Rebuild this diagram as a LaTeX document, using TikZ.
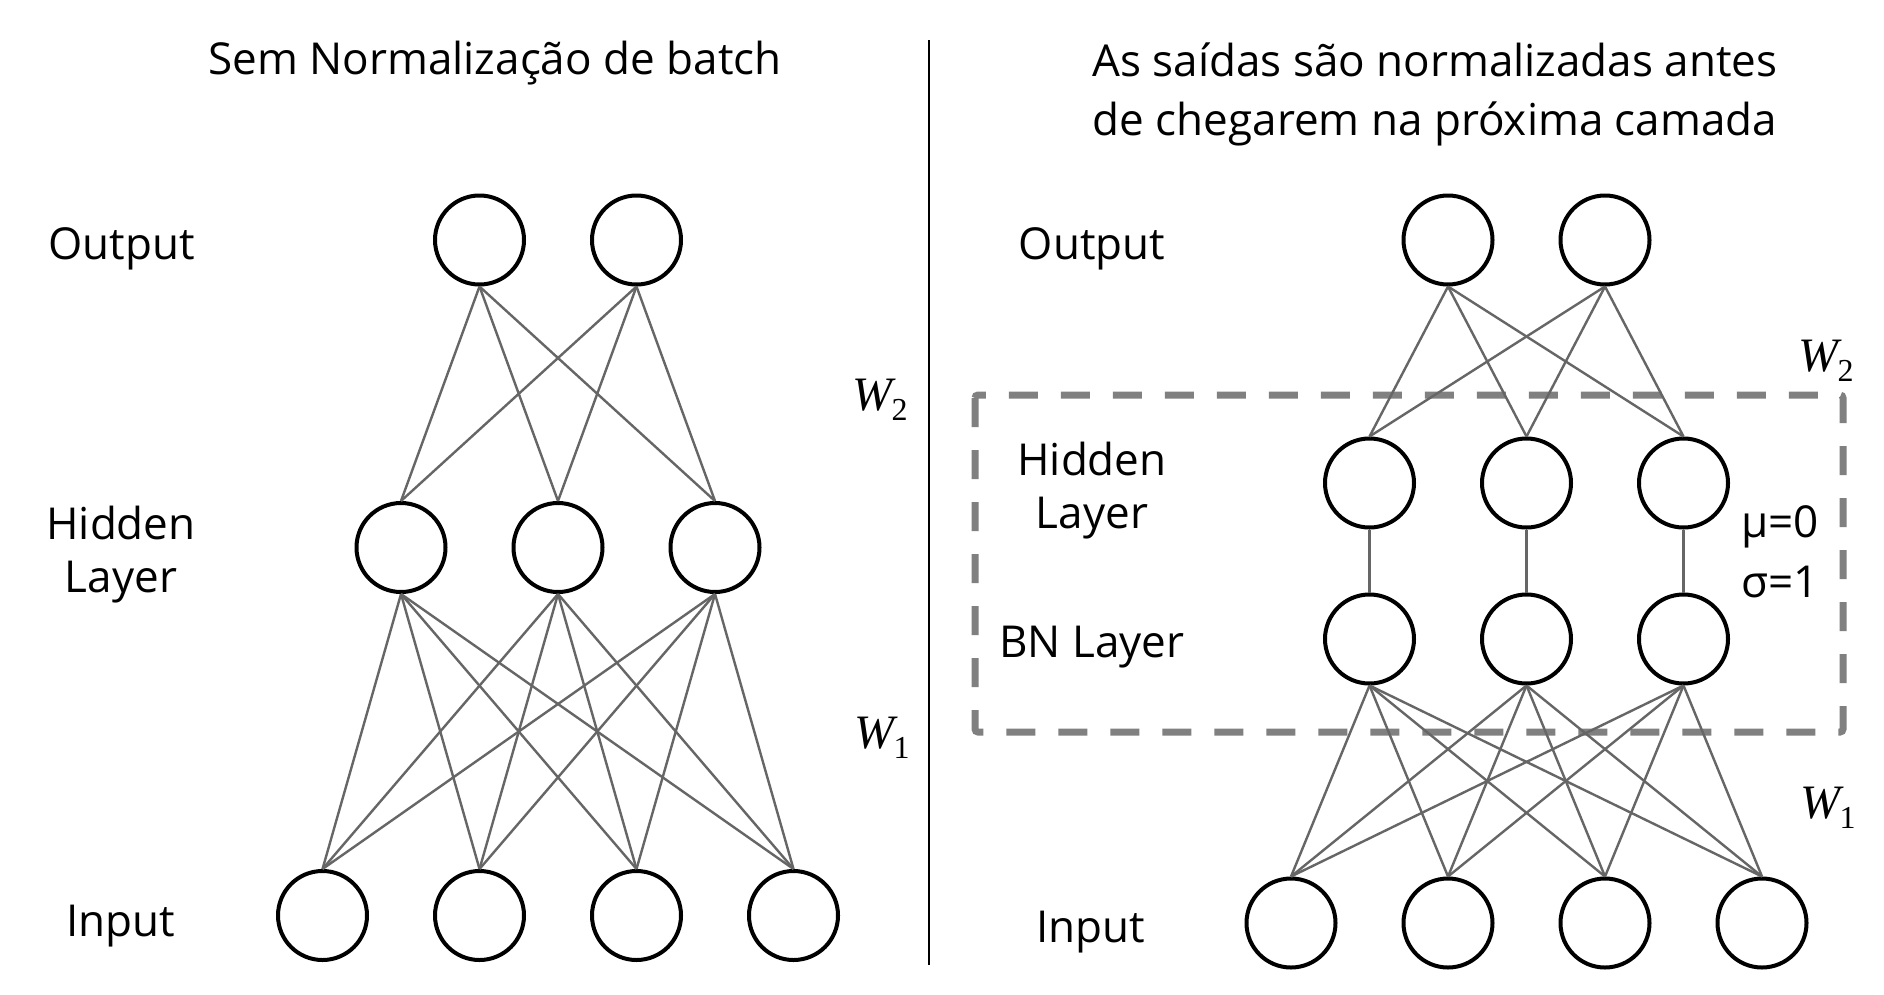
\documentclass[tikz,border=0pt]{standalone}
\usepackage{fontspec}
\setmainfont{Open Sans}
\newfontfamily\wfont{Liberation Serif}
\definecolor{linegray}{HTML}{666666}
\definecolor{boxgray}{HTML}{808080}
\newcommand{\wlab}[1]{{\fontsize{48}{48}\selectfont\wfont\itshape W}\kern-1pt\raisebox{-10pt}{\fontsize{32}{32}\selectfont\wfont #1}}
\begin{document}
\begin{tikzpicture}[x=1pt,y=-1pt,
  neuron/.style={circle,draw=black,fill=white,line width=4pt,minimum size=89pt,inner sep=0pt},
  conn/.style={draw=linegray,line width=2.4pt},
  lbl/.style={font=\fontsize{44}{53}\selectfont,inner sep=0pt,anchor=base},
  wlbl/.style={inner sep=0pt,anchor=center}]
\useasboundingbox[fill=white] (0,0) rectangle (1884,994);

% divider
\coordinate (divtop) at (929,40);
\coordinate (divbot) at (929,965);
\draw[line width=2.5pt] (divtop) -- (divbot);

% dashed BN box
\draw[draw=boxgray,line width=7pt,dash pattern=on 29pt off 23pt,rounded corners=3pt]
  (975,395) rectangle (1843,732);

% titles
\node[lbl] (ltitle) at (495,74) {Sem Normalização de batch};
\node[lbl] (rtitle1) at (1435,76) {As saídas são normalizadas antes};
\node[lbl] (rtitle2) at (1435,135) {de chegarem na próxima camada};

% left labels
\node[lbl] (lout) at (121.5,259) {Output};
\node[lbl] (lhid1) at (121,539) {Hidden};
\node[lbl] (lhid2) at (121,592) {Layer};
\node[lbl] (linp) at (121,936) {Input};
\node[wlbl] (lw2) at (880,400) {\wlab{2}};
\node[wlbl] (lw1) at (882,738) {\wlab{1}};

% right labels
\node[lbl] (rout) at (1092,259) {Output};
\node[lbl] (rhid1) at (1092,475) {Hidden};
\node[lbl] (rhid2) at (1092,528) {Layer};
\node[lbl] (rbn) at (1092,657) {BN Layer};
\node[lbl] (rinp) at (1091,942) {Input};
\node[lbl] (mu) at (1780,537) {μ=0};
\node[lbl] (sigma) at (1780,597) {σ=1};
\node[wlbl] (rw2) at (1826,361) {\wlab{2}};
\node[wlbl] (rw1) at (1828,808) {\wlab{1}};

% left network
\node[neuron] (lo1) at (479.5,240) {};
\node[neuron] (lo2) at (636.5,240) {};
\node[neuron] (lh1) at (401,547.5) {};
\node[neuron] (lh2) at (558,547.5) {};
\node[neuron] (lh3) at (715,547.5) {};
\node[neuron] (li1) at (322.5,915.5) {};
\node[neuron] (li2) at (479.5,915.5) {};
\node[neuron] (li3) at (636.5,915.5) {};
\node[neuron] (li4) at (793.5,915.5) {};

% right network
\node[neuron] (ro1) at (1448,240) {};
\node[neuron] (ro2) at (1605,240) {};
\node[neuron] (rh1) at (1369.5,483) {};
\node[neuron] (rh2) at (1526.5,483) {};
\node[neuron] (rh3) at (1683.5,483) {};
\node[neuron] (rb1) at (1369.5,639) {};
\node[neuron] (rb2) at (1526.5,639) {};
\node[neuron] (rb3) at (1683.5,639) {};
\node[neuron] (ri1) at (1291,923) {};
\node[neuron] (ri2) at (1448,923) {};
\node[neuron] (ri3) at (1605,923) {};
\node[neuron] (ri4) at (1762,923) {};

% connectors
\foreach \a in {1,2} \foreach \b in {1,2,3} {
  \draw[conn] (lo\a.south) -- (lh\b.north);
  \draw[conn] (ro\a.south) -- (rh\b.north);
}
\foreach \a in {1,2,3} \foreach \b in {1,2,3,4} {
  \draw[conn] (lh\a.south) -- (li\b.north);
  \draw[conn] (rb\a.south) -- (ri\b.north);
}
\foreach \a in {1,2,3} {
  \draw[conn] (rh\a.south) -- (rb\a.north);
}
\end{tikzpicture}
\end{document}
